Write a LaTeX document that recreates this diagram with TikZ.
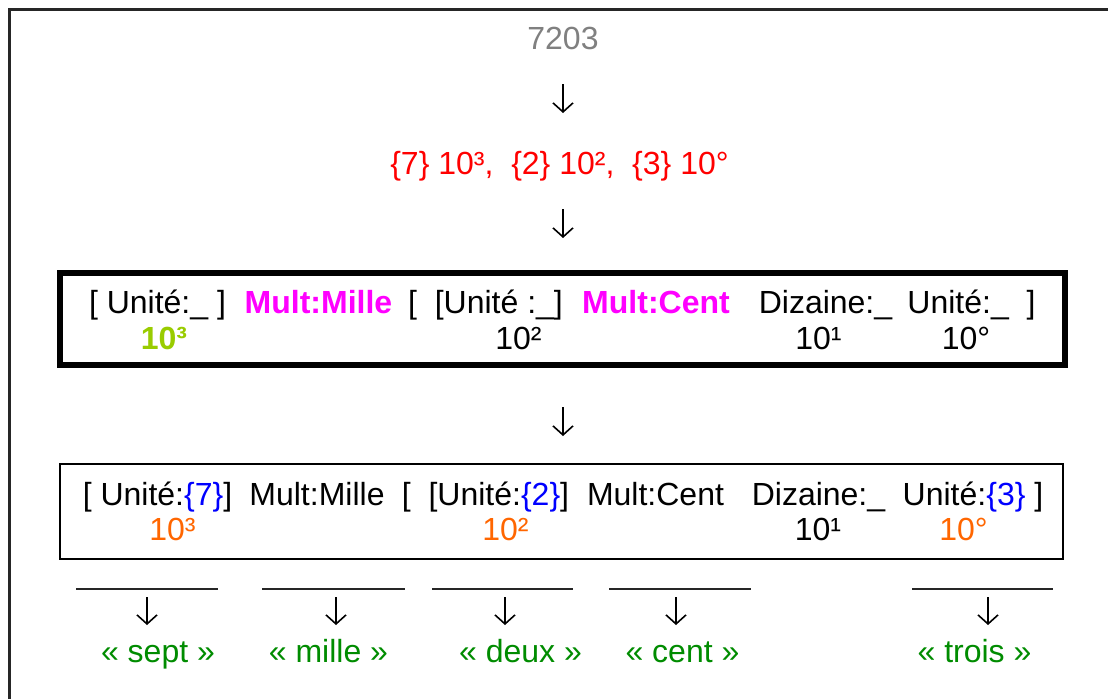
\documentclass[tikz,border=0pt]{standalone}
\usepackage{fontspec}
\setmainfont{Liberation Sans}
\usetikzlibrary{arrows.meta}
\definecolor{cgray}{RGB}{128,128,128}
\definecolor{cred}{RGB}{255,0,0}
\definecolor{cmag}{RGB}{255,0,255}
\definecolor{clime}{RGB}{153,204,0}
\definecolor{corange}{RGB}{255,102,0}
\definecolor{cblue}{RGB}{0,0,255}
\definecolor{cgreen}{RGB}{0,140,0}
\tikzset{
  txt/.style={inner sep=0pt, anchor=base, font=\fontsize{32}{36}\selectfont},
  btxt/.style={txt, font=\fontsize{32}{36}\selectfont\bfseries},
  arr/.style={line width=1.6pt, -{Straight Barb[length=9pt,width=20pt,line width=1.6pt]}},
  uline/.style={line width=2pt, black!85},
}
\begin{document}
\begin{tikzpicture}[x=1pt,y=-1pt]
\useasboundingbox (0,0) rectangle (1108,699);
\fill[white] (0,0) rectangle (1108,699);
% outer frame (only top and left visible)
\draw[line width=3pt, black!85] (9,699) -- (9,9) -- (1108,9);

\node[txt, text=cgray] (n7203) at (563,49) {7203};
\coordinate (a1s) at (563,84);
\coordinate (a1e) at (563,113);
\draw[arr] (a1s) -- (a1e);

\node[txt, text=cred] (dec) at (559.5,174) {\{7\} 10³,\ \ \{2\} 10²,\ \ \{3\} 10°};
\coordinate (a2s) at (563,209);
\coordinate (a2e) at (563,238);
\draw[arr] (a2s) -- (a2e);

% box 1
\draw[line width=6pt] (60,273) rectangle (1065,365);
\node[txt] (b1a) at (157.5,313) {[ Unité:\_ ]};
\node[btxt, text=cmag] (b1b) at (318.5,313) {Mult:Mille};
\node[txt] (b1c) at (485.5,313) {[\ \ [Unité :\_]};
\node[btxt, text=cmag] (b1d) at (656,313) {Mult:Cent};
\node[txt] (b1e) at (825.5,313) {Dizaine:\_};
\node[txt] (b1f) at (971.5,313) {Unité:\_\ \ ]};
\node[btxt, text=clime] (b1g) at (164,349) {10³};
\node[txt] (b1h) at (518.5,349) {10²};
\node[txt] (b1i) at (818.5,349) {10¹};
\node[txt] (b1j) at (966,349) {10°};

\coordinate (a3s) at (563,407);
\coordinate (a3e) at (563,436);
\draw[arr] (a3s) -- (a3e);

% box 2
\draw[line width=2pt] (60,464) rectangle (1063,559);
\node[txt] (b2a) at (157.5,505) {[ Unité:\textcolor{cblue}{\{7\}}]};
\node[txt] (b2b) at (317,505) {Mult:Mille};
\node[txt] (b2c) at (485.5,505) {[\ \ [Unité:\textcolor{cblue}{\{2\}}]};
\node[txt] (b2d) at (655.5,505) {Mult:Cent};
\node[txt] (b2e) at (818.5,505) {Dizaine:\_};
\node[txt] (b2f) at (973,505) {Unité:\textcolor{cblue}{\{3\}} ]};
\node[txt, text=corange] (b2g) at (172.5,540) {10³};
\node[txt, text=corange] (b2h) at (505.5,540) {10²};
\node[txt] (b2i) at (818,540) {10¹};
\node[txt, text=corange] (b2j) at (963.5,540) {10°};

% bottom words
\foreach \xa/\xb/\xm/\name/\xt/\word in {76/218/147/s/158/sept, 262/405/336/m/328.5/mille, 432/573/505/d/520.5/deux, 609/751/676/c/682.5/cent, 912/1053/988/t/974.5/trois}{
  \coordinate (l\name a) at (\xa,589);
  \coordinate (l\name b) at (\xb,589);
  \draw[uline] (l\name a) -- (l\name b);
  \coordinate (ar\name s) at (\xm,597);
  \coordinate (ar\name e) at (\xm,625);
  \draw[arr] (ar\name s) -- (ar\name e);
  \node[txt, text=cgreen] (w\name) at (\xt,662) {« \word\ »};
}
\end{tikzpicture}
\end{document}
